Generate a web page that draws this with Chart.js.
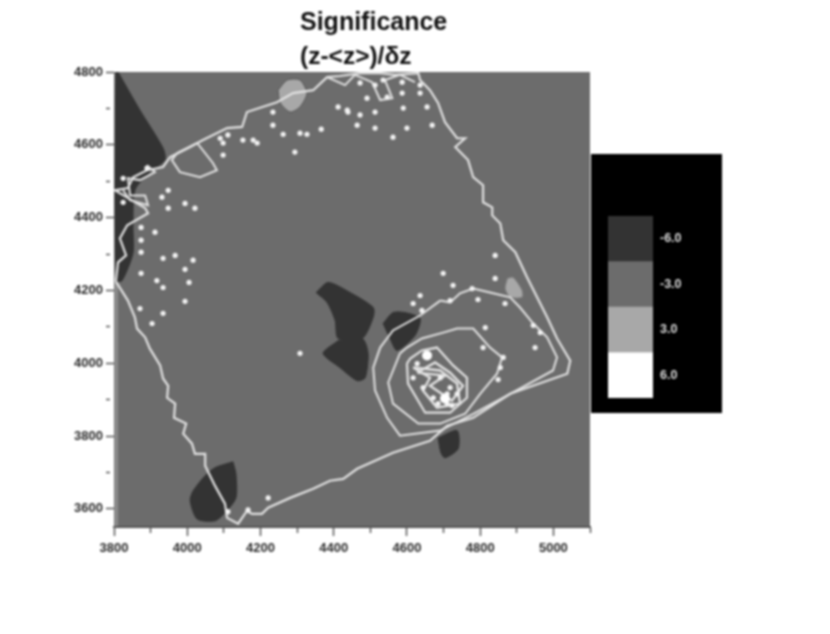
<!DOCTYPE html>
<html lang="en">
<head>
    <meta charset="UTF-8">
    <title>Significance</title>
    <script src="https://cdn.jsdelivr.net/npm/chart.js"></script>
    <style>
        body { margin: 0; background: #fff; }
        #wrap { position: relative; width: 830px; height: 634px; overflow: hidden; filter: blur(0.9px); }
        #heading { position: absolute; left: 300px; top: 7px; font-family: "Liberation Sans", sans-serif; font-weight: bold; color: #111; font-size: 25px; line-height: 28px; }
        #heading div:last-child { margin-top: 7px; font-size: 24.5px; }
        #mainChart { position: absolute; left: 0; top: 0; }
        #scaleChart { position: absolute; left: 591px; top: 154px; background: #000; }
    </style>
</head>
<body>
<div id="wrap">
    <canvas id="mainChart" width="830" height="634"></canvas>
    <canvas id="scaleChart" width="131" height="259"></canvas>
    <div id="heading"><div>Significance</div><div>(z-&lt;z&gt;)/δz</div></div>
</div>

<script>
    const xTicks = [3800, 3900, 4000, 4100, 4200, 4300, 4400, 4500, 4600, 4700, 4800, 4900, 5000, 5100];
    const yTicks = [3600, 3700, 3800, 3900, 4000, 4100, 4200, 4300, 4400, 4500, 4600, 4700, 4800];

    const levelLabels = ['-6.0', '-3.0', '3.0', '6.0'];
    const levelValues = [1, 1, 1, 1];
    const levelColors = ['#333333', '#6c6c6c', '#a8a8a8', '#ffffff'];

    // survey outline
    const boundary = [[3805,4225],[3838,4172],[3857,4126],[3863,4095],[3885,4071],[3898,4040],[3926,3994],[3934,3958],[3948,3938],[3945,3905],[3967,3889],[3964,3850],[3997,3834],[3989,3806],[4013,3779],[4021,3751],[4049,3751],[4049,3718],[4076,3663],[4103,3614],[4109,3575],[4139,3559],[4163,3594],[4177,3586],[4204,3586],[4221,3603],[4281,3630],[4344,3655],[4390,3677],[4426,3682],[4464,3710],[4562,3754],[4663,3787],[4710,3828],[4781,3850],[4882,3916],[5038,3971],[5046,4007],[5010,4068],[4983,4126],[4928,4236],[4896,4305],[4863,4338],[4855,4384],[4833,4406],[4833,4428],[4808,4442],[4808,4489],[4781,4511],[4767,4558],[4732,4594],[4759,4618],[4737,4618],[4704,4662],[4685,4715],[4663,4750],[4636,4778],[4631,4797],[4568,4792],[4527,4797],[4472,4797],[4417,4789],[4382,4786],[4344,4750],[4289,4742],[4245,4717],[4163,4690],[4150,4649],[4109,4646],[4043,4613],[4008,4594],[3953,4566],[3934,4539],[3890,4530],[3852,4511],[3838,4481],[3803,4475],[3811,4470],[3885,4426],[3893,4412],[3836,4379],[3816,4343],[3833,4296],[3811,4277],[3805,4225]];
    const topLeftLoop = [[3972,4577],[4027,4605],[4070,4550],[4081,4530],[4035,4511],[3980,4525],[3958,4558]];
    const topBand = [[4382,4786],[4431,4764],[4458,4792],[4505,4772],[4527,4723],[4560,4728],[4540,4778],[4581,4792],[4622,4772]];
    const leftCluster = [[3890,4544],[3912,4525],[3871,4503],[3838,4508],[3844,4461],[3885,4461],[3893,4434],[3844,4448],[3825,4475]];
    const contourOuter = [[4691,4172],[4636,4131],[4562,4090],[4527,4043],[4508,3988],[4513,3925],[4546,3850],[4581,3801],[4691,3815],[4781,3861],[4882,3916],[4999,3980],[5010,4016],[4983,4071],[4945,4109],[4909,4153],[4882,4181],[4827,4194],[4781,4205],[4745,4192],[4718,4167]];
    const contourMiddle = [[4581,4027],[4549,3947],[4562,3889],[4631,3834],[4691,3834],[4759,3861],[4800,3916],[4846,3971],[4860,4016],[4827,4043],[4781,4095],[4737,4095],[4699,4084],[4641,4068],[4600,4043]];
    const contourInner = [[4600,3999],[4603,3944],[4650,3864],[4718,3864],[4764,3905],[4764,3960],[4726,3994],[4682,4043],[4641,4035],[4609,4013]];
    const contourCore = [[4617,3988],[4663,3960],[4644,3925],[4682,3878],[4745,3889],[4737,3944],[4691,3980]];
    const contourPeak = [[4628,3974],[4677,4002],[4718,3974],[4753,3938],[4723,3897],[4691,3919],[4663,3938],[4704,3966]];

    // regions below -6
    const darkCorner = [[3811,4800],[3871,4695],[3934,4591],[3939,4558],[3898,4525],[3857,4475],[3852,4373],[3852,4302],[3822,4227],[3805,4227],[3805,4800]];
    const darkCentreUpper = [[4352,4194],[4385,4222],[4445,4194],[4508,4153],[4508,4126],[4478,4068],[4412,4068],[4404,4117],[4382,4167]];
    const darkCentreLower = [[4412,4062],[4478,4068],[4494,4027],[4486,3960],[4464,3952],[4417,3988],[4371,4027]];
    const darkNearCore = [[4535,4109],[4562,4139],[4595,4139],[4636,4123],[4622,4076],[4573,4035],[4554,4068]];
    const darkEdge = [[4685,3795],[4737,3815],[4740,3765],[4704,3740],[4693,3754]];
    const darkBottom = [[4125,3729],[4133,3696],[4133,3630],[4103,3589],[4076,3567],[4027,3572],[4008,3622],[4016,3649],[4049,3691],[4076,3713]];

    // regions above 3
    const lightTop = [[4248,4750],[4273,4778],[4308,4778],[4327,4742],[4308,4704],[4281,4690],[4254,4715]];
    const lightRight = [[4874,4233],[4890,4236],[4915,4200],[4915,4181],[4882,4181],[4868,4205]];

    const speckles = [[4472,4770],[4513,4764],[4535,4778],[4587,4772],[4636,4764],[4636,4742],[4491,4728],[4546,4731],[4587,4742],[4437,4695],[4472,4682],[4513,4690],[4590,4701],[4655,4704],[4464,4654],[4513,4646],[4600,4646],[4669,4654],[4562,4621],[4841,4296],[4699,4247],[4234,4690],[4234,4654],[4262,4629],[4308,4632],[4327,4629],[4366,4643],[4294,4580],[4412,4704],[4439,4690],[4152,4613],[4180,4613],[4191,4605],[4098,4572],[3948,4475],[3931,4456],[3948,4426],[3994,4439],[4021,4426],[3874,4373],[3912,4360],[3874,4338],[3874,4305],[3934,4288],[3967,4296],[4016,4283],[3994,4258],[3874,4247],[3917,4227],[3934,4208],[4005,4222],[3994,4170],[3825,4442],[3825,4508],[3890,4536],[4090,4618],[4111,4627],[4098,4605],[3871,4150],[3934,4137],[3904,4109],[4308,4027],[4221,3630],[4111,3592],[4166,3597],[4726,4214],[4718,4172],[4636,4186],[4617,4164],[4641,4145],[4841,4233],[4794,4175],[4778,4205],[4868,4164],[4814,4098],[4950,4043],[4945,4104],[4964,4084],[4808,4043],[4863,4016],[4855,3988],[4849,3955],[4628,3999],[4691,3960],[4718,3933],[4737,3916],[4644,3933],[4672,3905],[4710,3889],[4617,3960],[4685,3889],[4723,3884],[4710,3916]];
    const peaks = [[4655,4021],[4704,3903]];

    const closed = a => [...a, a[0]].map(([x, y]) => ({ x, y }));
    const open = a => a.map(([x, y]) => ({ x, y }));

    const contour = (points, width) => ({
        data: points, showLine: true, borderColor: '#e2e2e2', borderWidth: width,
        pointRadius: 0, fill: false, tension: 0
    });
    const region = (points, color, edge) => ({
        data: closed(points), showLine: true, backgroundColor: color, borderColor: edge, borderWidth: 1,
        pointRadius: 0, fill: 'shape', tension: 0.25
    });
    const dots = (points, radius, color) => ({
        data: open(points), showLine: false, pointRadius: radius, pointBackgroundColor: color,
        pointBorderWidth: 0
    });

    const plotBackground = {
        id: 'plotBackground',
        beforeDraw(chart) {
            const { ctx, chartArea: a } = chart;
            ctx.save();
            ctx.fillStyle = levelColors[1];
            ctx.fillRect(a.left, a.top, a.width, a.height);
            ctx.fillStyle = '#8c8c8c';
            ctx.fillRect(a.left, a.top, 4, a.height);
            ctx.restore();
        }
    };

    const tickFont = { family: '"Liberation Sans", sans-serif', size: 13, weight: 'bold' };

    new Chart(document.getElementById('mainChart'), {
        type: 'scatter',
        data: {
            datasets: [
                dots(peaks, 5, '#ffffff'),
                dots(speckles, 2.6, '#f2f2f2'),
                contour(open(boundary), 2.2),
                contour(closed(topLeftLoop), 2),
                contour(open(topBand), 2),
                contour(open(leftCluster), 2),
                contour(closed(contourOuter), 2),
                contour(closed(contourMiddle), 2),
                contour(closed(contourInner), 2.2),
                contour(closed(contourCore), 2.4),
                contour(closed(contourPeak), 2.4),
                region(lightTop, levelColors[2], '#555555'),
                region(lightRight, levelColors[2], '#777777'),
                region(darkCorner, levelColors[0], levelColors[0]),
                region(darkCentreUpper, levelColors[0], levelColors[0]),
                region(darkCentreLower, levelColors[0], levelColors[0]),
                region(darkNearCore, levelColors[0], levelColors[0]),
                region(darkEdge, levelColors[0], levelColors[0]),
                region(darkBottom, levelColors[0], levelColors[0])
            ]
        },
        options: {
            responsive: false,
            animation: false,
            layout: { padding: { left: 64, right: 240, top: 72, bottom: 67 } },
            plugins: { legend: { display: false }, tooltip: { enabled: false } },
            scales: {
                x: {
                    type: 'linear', min: 3800, max: 5100,
                    afterBuildTicks: s => { s.ticks = xTicks.map(value => ({ value })); },
                    afterFit: s => { s.height = 40; },
                    border: { color: '#555555', width: 2 },
                    grid: {
                        drawOnChartArea: false, tickLength: 9, tickColor: '#555555', tickWidth: 1.5,
                        tickBorderDash: c => c.tick && c.tick.value % 200 ? [5, 100] : []
                    },
                    ticks: {
                        autoSkip: false, maxRotation: 0, padding: 5, color: '#2a2a2a', font: tickFont,
                        callback: v => v % 200 ? '' : String(v)
                    }
                },
                y: {
                    type: 'linear', min: 3550, max: 4800,
                    afterBuildTicks: s => { s.ticks = yTicks.map(value => ({ value })); },
                    afterFit: s => { s.width = 50; },
                    border: { color: '#777777', width: 1 },
                    grid: {
                        drawOnChartArea: false, tickLength: 8, tickColor: '#555555', tickWidth: 1.5,
                        tickBorderDash: c => c.tick && c.tick.value % 200 ? [4, 100] : []
                    },
                    ticks: {
                        autoSkip: false, padding: 3, color: '#2a2a2a', font: tickFont,
                        callback: v => v % 200 ? '' : String(v)
                    }
                }
            }
        },
        plugins: [plotBackground]
    });

    new Chart(document.getElementById('scaleChart'), {
        type: 'bar',
        data: {
            labels: levelLabels,
            datasets: [{
                data: levelValues, backgroundColor: levelColors,
                barPercentage: 1, categoryPercentage: 1
            }]
        },
        options: {
            indexAxis: 'y',
            responsive: false,
            animation: false,
            layout: { padding: { left: 17, right: 0, top: 62, bottom: 15 } },
            plugins: { legend: { display: false }, tooltip: { enabled: false } },
            scales: {
                x: { display: false, min: 0, max: 1 },
                y: {
                    position: 'right',
                    afterFit: s => { s.width = 69; },
                    border: { display: false },
                    grid: { display: false, drawTicks: false },
                    ticks: { padding: 7, crossAlign: 'near', color: '#dddddd', font: { family: '"Liberation Sans", sans-serif', size: 12.5, weight: 'bold' } }
                }
            }
        }
    });
</script>
</body>
</html>
